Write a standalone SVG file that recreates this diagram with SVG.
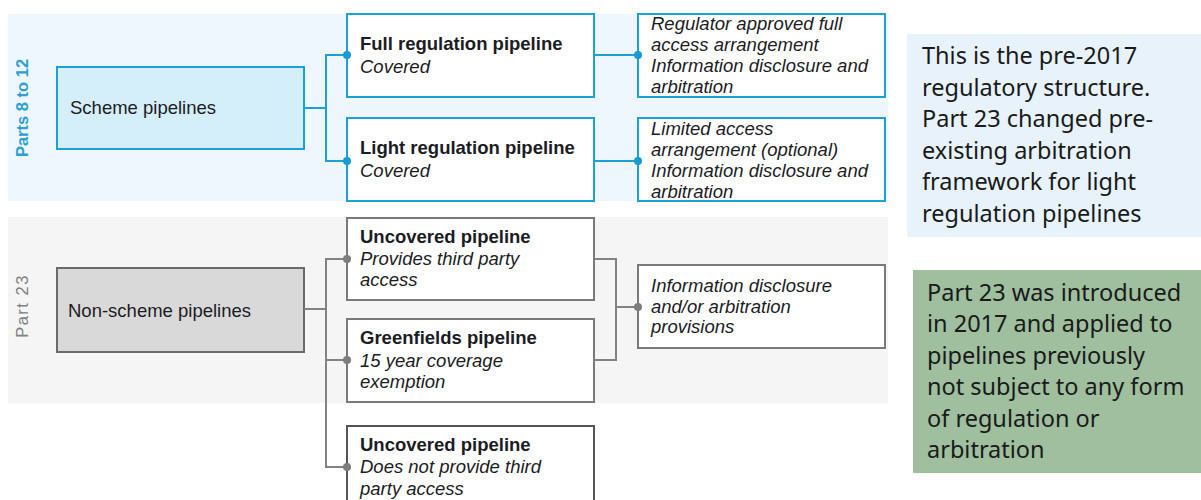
<svg xmlns="http://www.w3.org/2000/svg" width="1201" height="500" viewBox="0 0 1201 500">
  <style>
    .lbl { font-family: "Liberation Sans", Arial, sans-serif; font-size: 18.5px; fill: #1c1c24; }
    .b { font-weight: bold; }
    .i { font-style: italic; }
    .note { font-family: "Noto Sans", "Open Sans", sans-serif; font-size: 23.5px; fill: #1a1a1a; }
    .blueBox { fill: #ffffff; stroke: #1ba1d8; stroke-width: 2; }
    .greyBox { fill: #ffffff; stroke: #7a7a7a; stroke-width: 2; }
    .blueLine { fill: none; stroke: #1ba1d8; stroke-width: 2; }
    .greyLine { fill: none; stroke: #828282; stroke-width: 2; }
    .blueDot { fill: #1a9ad2; }
    .greyDot { fill: #7e7e7e; }
  </style>

  <!-- section bands -->
  <rect x="8" y="14" width="880" height="187" fill="#eef7fd"/>
  <rect x="8" y="217" width="880" height="186" fill="#f5f5f5"/>

  <!-- section side labels -->
  <text transform="translate(28,108) rotate(-90)" text-anchor="middle" font-family="Liberation Sans, Arial, sans-serif" font-size="16.5" font-weight="bold" fill="#2d9fd4">Parts 8 to 12</text>
  <text transform="translate(28,306) rotate(-90)" text-anchor="middle" font-family="Liberation Sans, Arial, sans-serif" font-size="16.5" letter-spacing="1.5" fill="#808080">Part 23</text>

  <!-- scheme side -->
  <g id="scheme-pipelines">
    <rect x="57" y="67" width="247" height="82" fill="#d5effa" stroke="#1ba1d8" stroke-width="2"/>
    <text class="lbl" x="70" y="114">Scheme pipelines</text>
  </g>
  <g id="full-regulation">
    <rect class="blueBox" x="347" y="14" width="247" height="83"/>
    <text class="lbl b" x="360" y="50">Full regulation pipeline</text>
    <text class="lbl i" x="360" y="73">Covered</text>
  </g>
  <g id="light-regulation">
    <rect class="blueBox" x="347" y="118" width="247" height="83"/>
    <text class="lbl b" x="360" y="154">Light regulation pipeline</text>
    <text class="lbl i" x="360" y="177">Covered</text>
  </g>
  <g id="full-regulation-terms">
    <rect class="blueBox" x="638" y="14" width="247" height="83"/>
    <text class="lbl i" x="651" y="30">Regulator approved full</text>
    <text class="lbl i" x="651" y="51">access arrangement</text>
    <text class="lbl i" x="651" y="72">Information disclosure and</text>
    <text class="lbl i" x="651" y="92.5">arbitration</text>
  </g>
  <g id="light-regulation-terms">
    <rect class="blueBox" x="638" y="118" width="247" height="83"/>
    <text class="lbl i" x="651" y="135">Limited access</text>
    <text class="lbl i" x="651" y="156">arrangement (optional)</text>
    <text class="lbl i" x="651" y="177">Information disclosure and</text>
    <text class="lbl i" x="651" y="197.5">arbitration</text>
  </g>

  <!-- non-scheme side -->
  <g id="non-scheme-pipelines">
    <rect x="57" y="268" width="247" height="84" fill="#d9d9d9" stroke="#6a6a6a" stroke-width="2"/>
    <text class="lbl" x="68" y="317">Non-scheme pipelines</text>
  </g>
  <g id="uncovered-access">
    <rect class="greyBox" x="347" y="218" width="247" height="82"/>
    <text class="lbl b" x="360" y="243">Uncovered pipeline</text>
    <text class="lbl i" x="360" y="265">Provides third party</text>
    <text class="lbl i" x="360" y="286">access</text>
  </g>
  <g id="greenfields">
    <rect class="greyBox" x="347" y="319" width="247" height="83"/>
    <text class="lbl b" x="360" y="344">Greenfields pipeline</text>
    <text class="lbl i" x="360" y="367">15 year coverage</text>
    <text class="lbl i" x="360" y="388">exemption</text>
  </g>
  <g id="uncovered-no-access">
    <rect x="347" y="426" width="247" height="90" fill="#ffffff" stroke="#555555" stroke-width="2"/>
    <text class="lbl b" x="360" y="451">Uncovered pipeline</text>
    <text class="lbl i" x="360" y="473">Does not provide third</text>
    <text class="lbl i" x="360" y="495">party access</text>
  </g>
  <g id="part23-terms">
    <rect class="greyBox" x="638" y="265" width="247" height="83"/>
    <text class="lbl i" x="651" y="292">Information disclosure</text>
    <text class="lbl i" x="651" y="313">and/or arbitration</text>
    <text class="lbl i" x="651" y="333">provisions</text>
  </g>

  <!-- connectors, drawn over box edges so the joint dots sit on top -->
  <g id="connectors">
    <path class="blueLine" d="M304,108 H326 M347,55 H326 V161 H347 M594,55 H638 M594,161 H638"/>
    <path class="greyLine" d="M304,309 H326 M347,259 H326 V467 H347 M326,360 H347 M594,259 H616 V360 H594 M616,307 H638"/>
    <circle class="blueDot" cx="347" cy="55" r="4"/>
    <circle class="blueDot" cx="347" cy="161" r="4"/>
    <circle class="blueDot" cx="638" cy="55" r="4"/>
    <circle class="blueDot" cx="638" cy="161" r="4"/>
    <circle class="greyDot" cx="347" cy="259" r="4"/>
    <circle class="greyDot" cx="347" cy="360" r="4"/>
    <circle class="greyDot" cx="347" cy="467" r="4"/>
    <circle class="greyDot" cx="638" cy="307" r="4"/>
  </g>

  <!-- notes -->
  <g id="note-pre2017">
    <rect x="907" y="34" width="300" height="203" fill="#e7f2fa"/>
    <text class="note" x="922" y="64">This is the pre-2017</text>
    <text class="note" x="922" y="95.6">regulatory structure.</text>
    <text class="note" x="922" y="127.2">Part 23 changed pre-</text>
    <text class="note" x="922" y="158.8">existing arbitration</text>
    <text class="note" x="922" y="190.4">framework for light</text>
    <text class="note" x="922" y="222">regulation pipelines</text>
  </g>
  <g id="note-part23">
    <rect x="913" y="270" width="300" height="203" fill="#9fbf9f"/>
    <text class="note" x="927" y="300.5">Part 23 was introduced</text>
    <text class="note" x="927" y="332">in 2017 and applied to</text>
    <text class="note" x="927" y="363.5">pipelines previously</text>
    <text class="note" x="927" y="395">not subject to any form</text>
    <text class="note" x="927" y="426.5">of regulation or</text>
    <text class="note" x="927" y="458">arbitration</text>
  </g>
</svg>
